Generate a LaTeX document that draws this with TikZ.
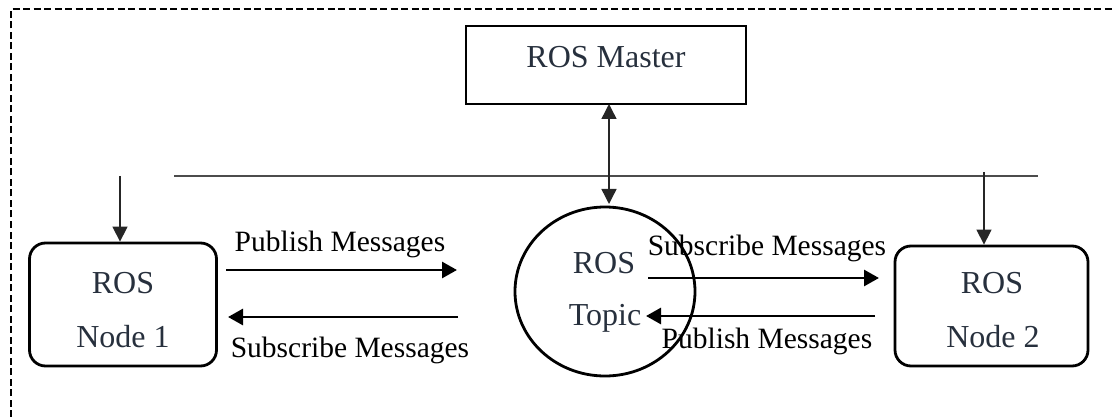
\documentclass[tikz,border=0pt]{standalone}
\usepackage{fontspec}
\setmainfont{Liberation Serif}
\usetikzlibrary{arrows.meta,shapes.geometric}
\definecolor{nodetext}{HTML}{27303D}
\tikzset{
  boxline/.style={draw=black,line width=2.8pt},
  nodebox/.style={boxline,rounded corners=16pt,inner sep=0pt},
  nodelabel/.style={text=nodetext,font=\fontsize{32}{36}\selectfont,inner sep=0pt},
  msglabel/.style={text=black,font=\fontsize{29.5}{33}\selectfont,inner sep=0pt},
  msgarrow/.style={line width=2.8pt,-{Triangle[length=15pt,width=16pt]}},
  thinarrow/.style={line width=1.4pt,draw=black!85,-{Triangle[length=15pt,width=15pt]}},
  busline/.style={line width=1.6pt,draw=black!70},
  border/.style={line width=2.4pt,dash pattern=on 7pt off 3.5pt}
}
\begin{document}
\begin{tikzpicture}[x=1pt,y=-1pt]
\useasboundingbox (0,0) rectangle (1112,417);
% dashed frame (only top and left edges visible)
\draw[border] (11,417) -- (11,9) -- (1112,9);

% shapes
\node[boxline,minimum width=280pt,minimum height=78pt,inner sep=0pt] (master) at (606,65) {};
\node[nodelabel] (mastert) at (606,57) {ROS Master};

\node[nodebox,minimum width=187pt,minimum height=123pt] (node1) at (123,304.5) {};
\node[nodelabel] (n1a) at (123,283) {ROS};
\node[nodelabel] (n1b) at (123,337) {Node 1};

\node[nodebox,minimum width=193pt,minimum height=120pt] (node2) at (991.5,306) {};
\node[nodelabel] (n2a) at (992,283) {ROS};
\node[nodelabel] (n2b) at (993,337) {Node 2};

\node[ellipse,boxline,minimum width=180pt,minimum height=169pt,inner sep=0pt] (topic) at (605,291.5) {};
\node[nodelabel] (ta) at (604,263) {ROS};
\node[nodelabel] (tb) at (605,318) {Topic};

% bus line and drops
\coordinate (busL) at (174,176);
\coordinate (busR) at (1038,176);
\draw[busline] (busL) -- (busR);
\coordinate (d1) at (120,176);
\coordinate (d2) at (984,172);
\draw[thinarrow] (d1) -- (d1 |- node1.north);
\draw[thinarrow] (d2) -- (d2 |- node2.north);

% master <-> topic
\coordinate (mt1) at (609,104);
\coordinate (mt2) at (609,204);
\draw[line width=1.4pt,draw=black!85,{Triangle[length=15pt,width=15pt]}-{Triangle[length=15pt,width=15pt]}] (mt1) -- (mt2);

% message arrows between node 1 and topic
\coordinate (p1s) at (226,270);
\coordinate (p1e) at (457,270);
\draw[msgarrow] (p1s) -- (p1e);
\node[msglabel] (p1l) at (340,244) {Publish Messages};
\coordinate (s1s) at (458,317);
\coordinate (s1e) at (228,317);
\draw[msgarrow] (s1s) -- (s1e);
\node[msglabel] (s1l) at (350,350) {Subscribe Messages};

% message arrows between topic and node 2
\coordinate (s2s) at (648,278);
\coordinate (s2e) at (879,278);
\draw[msgarrow] (s2s) -- (s2e);
\node[msglabel] (s2l) at (767,248) {Subscribe Messages};
\coordinate (p2s) at (875,316);
\coordinate (p2e) at (646,316);
\draw[msgarrow] (p2s) -- (p2e);
\node[msglabel] (p2l) at (767,341) {Publish Messages};
\end{tikzpicture}
\end{document}
